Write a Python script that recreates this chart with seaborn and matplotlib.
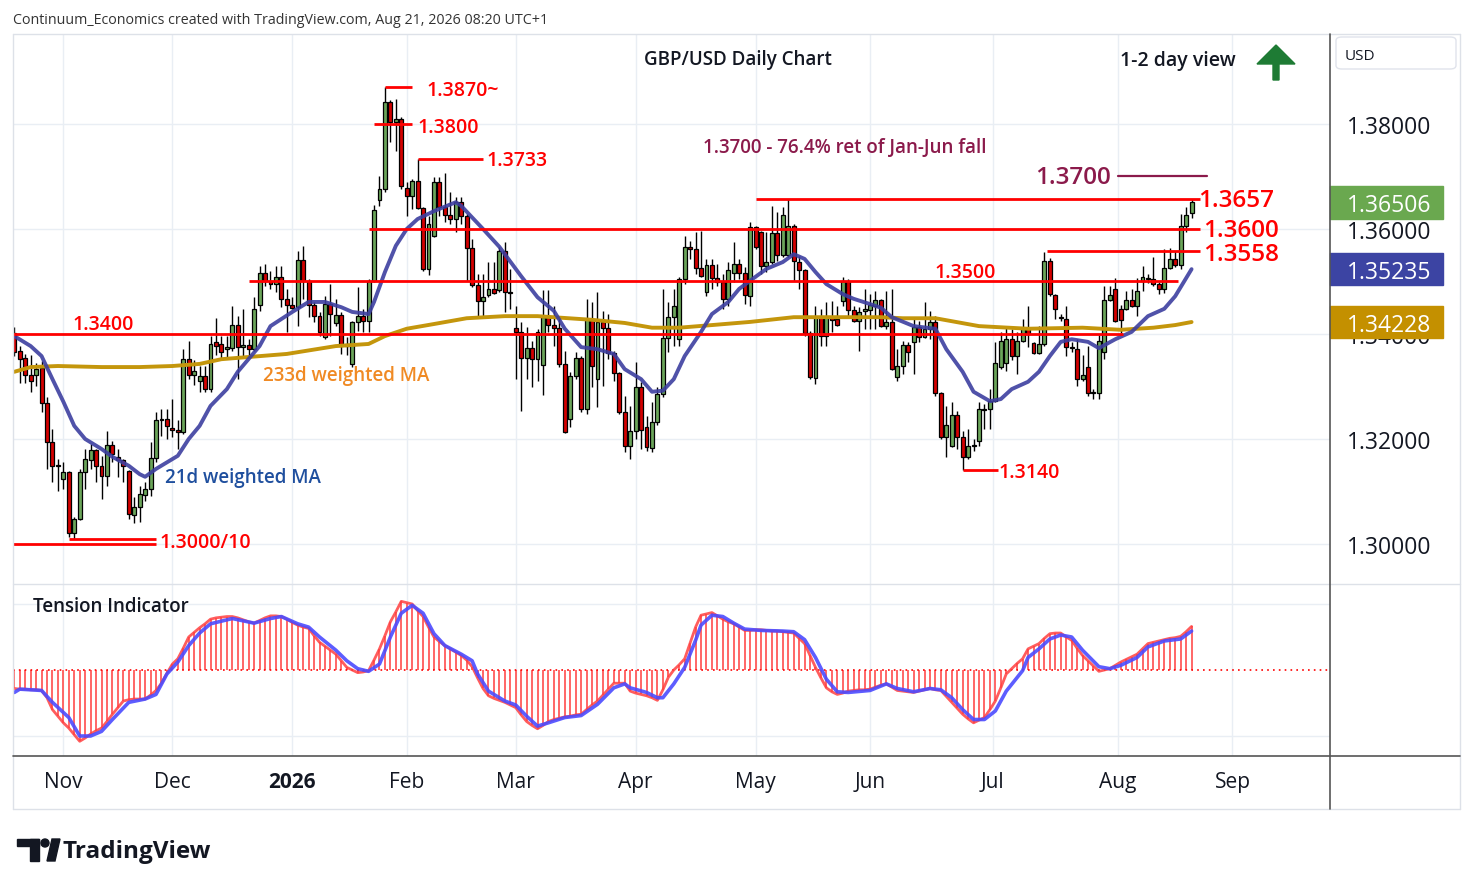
import numpy as np
import pandas as pd
import matplotlib
matplotlib.use("Agg")
import matplotlib.pyplot as plt
import matplotlib.transforms as mtransforms
from matplotlib.patches import Rectangle, FancyBboxPatch, FancyArrow, Circle, Polygon
import seaborn as sns

# ---- daily GBP/USD candles ----
opens = [1.3402, 1.3368, 1.3354, 1.3322, 1.3322, 1.3335, 1.3269, 1.3194, 1.3149, 1.3124,
         1.3137, 1.3021, 1.3048, 1.3137, 1.3160, 1.3179, 1.3149, 1.3130, 1.3189, 1.3166,
         1.3160, 1.3139, 1.3055, 1.3071, 1.3093, 1.3105, 1.3164, 1.3236, 1.3238, 1.3221,
         1.3217, 1.3213, 1.3352, 1.3322, 1.3310, 1.3320, 1.3295, 1.3385, 1.3381, 1.3371,
         1.3373, 1.3417, 1.3375, 1.3379, 1.3371, 1.3455, 1.3516, 1.3501, 1.3495, 1.3508,
         1.3467, 1.3455, 1.3451, 1.3540, 1.3501, 1.3455, 1.3434, 1.3394, 1.3457, 1.3421,
         1.3436, 1.3381, 1.3343, 1.3423, 1.3434, 1.3425, 1.3501, 1.3655, 1.3676, 1.3842,
         1.3804, 1.3810, 1.3678, 1.3663, 1.3691, 1.3640, 1.3524, 1.3587, 1.3690, 1.3642,
         1.3627, 1.3619, 1.3651, 1.3625, 1.3564, 1.3493, 1.3463, 1.3474, 1.3486, 1.3484,
         1.3558, 1.3480, 1.3412, 1.3404, 1.3354, 1.3373, 1.3352, 1.3340, 1.3432, 1.3417,
         1.3412, 1.3343, 1.3238, 1.3320, 1.3354, 1.3257, 1.3429, 1.3314, 1.3423, 1.3412,
         1.3364, 1.3326, 1.3251, 1.3187, 1.3215, 1.3299, 1.3223, 1.3183, 1.3232, 1.3286,
         1.3392, 1.3432, 1.3390, 1.3505, 1.3566, 1.3562, 1.3526, 1.3480, 1.3531, 1.3507,
         1.3499, 1.3467, 1.3516, 1.3533, 1.3516, 1.3472, 1.3604, 1.3594, 1.3529, 1.3537,
         1.3592, 1.3550, 1.3550, 1.3606, 1.3537, 1.3522, 1.3402, 1.3316, 1.3432, 1.3396,
         1.3430, 1.3429, 1.3463, 1.3501, 1.3446, 1.3425, 1.3444, 1.3446, 1.3453, 1.3465,
         1.3415, 1.3423, 1.3318, 1.3339, 1.3379, 1.3385, 1.3413, 1.3394, 1.3410, 1.3423,
         1.3288, 1.3204, 1.3187, 1.3246, 1.3204, 1.3166, 1.3187, 1.3196, 1.3257, 1.3257,
         1.3272, 1.3337, 1.3345, 1.3390, 1.3358, 1.3387, 1.3411, 1.3383, 1.3364, 1.3381,
         1.3539, 1.3474, 1.3432, 1.3429, 1.3375, 1.3371, 1.3314, 1.3337, 1.3288, 1.3288,
         1.3366, 1.3465, 1.3486, 1.3448, 1.3448, 1.3465, 1.3453, 1.3501, 1.3505, 1.3505,
         1.3495, 1.3486, 1.3526, 1.3543, 1.3531, 1.3606, 1.3631]
highs = [1.3413, 1.3377, 1.3362, 1.3360, 1.3345, 1.3348, 1.3280, 1.3219, 1.3162, 1.3156,
         1.3139, 1.3052, 1.3143, 1.3181, 1.3190, 1.3181, 1.3168, 1.3215, 1.3196, 1.3181,
         1.3162, 1.3141, 1.3090, 1.3111, 1.3118, 1.3194, 1.3251, 1.3257, 1.3257, 1.3276,
         1.3236, 1.3371, 1.3387, 1.3350, 1.3339, 1.3339, 1.3396, 1.3430, 1.3396, 1.3396,
         1.3453, 1.3434, 1.3448, 1.3390, 1.3471, 1.3529, 1.3533, 1.3520, 1.3529, 1.3529,
         1.3486, 1.3471, 1.3558, 1.3567, 1.3505, 1.3461, 1.3442, 1.3472, 1.3495, 1.3467,
         1.3442, 1.3394, 1.3425, 1.3490, 1.3448, 1.3505, 1.3646, 1.3701, 1.3870, 1.3846,
         1.3848, 1.3814, 1.3690, 1.3695, 1.3733, 1.3642, 1.3625, 1.3699, 1.3699, 1.3706,
         1.3670, 1.3661, 1.3661, 1.3628, 1.3581, 1.3514, 1.3514, 1.3537, 1.3537, 1.3566,
         1.3575, 1.3524, 1.3453, 1.3423, 1.3413, 1.3387, 1.3410, 1.3484, 1.3484, 1.3453,
         1.3434, 1.3368, 1.3327, 1.3366, 1.3358, 1.3467, 1.3461, 1.3480, 1.3444, 1.3438,
         1.3368, 1.3327, 1.3282, 1.3263, 1.3347, 1.3308, 1.3244, 1.3270, 1.3299, 1.3486,
         1.3461, 1.3486, 1.3508, 1.3587, 1.3577, 1.3594, 1.3596, 1.3543, 1.3543, 1.3533,
         1.3514, 1.3537, 1.3575, 1.3543, 1.3528, 1.3613, 1.3606, 1.3596, 1.3594, 1.3644,
         1.3632, 1.3642, 1.3657, 1.3610, 1.3548, 1.3524, 1.3406, 1.3453, 1.3448, 1.3461,
         1.3463, 1.3453, 1.3508, 1.3505, 1.3453, 1.3451, 1.3486, 1.3476, 1.3482, 1.3467,
         1.3482, 1.3486, 1.3371, 1.3387, 1.3385, 1.3432, 1.3425, 1.3461, 1.3444, 1.3434,
         1.3290, 1.3263, 1.3270, 1.3253, 1.3215, 1.3219, 1.3200, 1.3270, 1.3267, 1.3295,
         1.3385, 1.3404, 1.3415, 1.3410, 1.3404, 1.3429, 1.3453, 1.3385, 1.3415, 1.3556,
         1.3545, 1.3476, 1.3438, 1.3453, 1.3385, 1.3390, 1.3360, 1.3377, 1.3295, 1.3398,
         1.3491, 1.3491, 1.3507, 1.3455, 1.3482, 1.3486, 1.3507, 1.3529, 1.3514, 1.3547,
         1.3499, 1.3562, 1.3564, 1.3558, 1.3629, 1.3642, 1.3657]
lows = [1.3358, 1.3307, 1.3307, 1.3289, 1.3300, 1.3251, 1.3143, 1.3118, 1.3100, 1.3105,
        1.3013, 1.3010, 1.3046, 1.3105, 1.3143, 1.3118, 1.3086, 1.3111, 1.3156, 1.3128,
        1.3118, 1.3048, 1.3040, 1.3042, 1.3082, 1.3092, 1.3156, 1.3206, 1.3200, 1.3204,
        1.3181, 1.3209, 1.3314, 1.3303, 1.3289, 1.3289, 1.3289, 1.3360, 1.3352, 1.3356,
        1.3368, 1.3314, 1.3358, 1.3358, 1.3368, 1.3444, 1.3491, 1.3486, 1.3480, 1.3451,
        1.3404, 1.3448, 1.3415, 1.3467, 1.3432, 1.3423, 1.3396, 1.3390, 1.3396, 1.3415,
        1.3362, 1.3360, 1.3337, 1.3406, 1.3404, 1.3404, 1.3499, 1.3644, 1.3670, 1.3766,
        1.3749, 1.3676, 1.3625, 1.3638, 1.3638, 1.3520, 1.3512, 1.3585, 1.3625, 1.3613,
        1.3610, 1.3594, 1.3610, 1.3501, 1.3489, 1.3434, 1.3434, 1.3470, 1.3476, 1.3480,
        1.3442, 1.3448, 1.3314, 1.3253, 1.3314, 1.3299, 1.3310, 1.3284, 1.3404, 1.3377,
        1.3337, 1.3211, 1.3223, 1.3314, 1.3251, 1.3248, 1.3299, 1.3261, 1.3301, 1.3352,
        1.3310, 1.3248, 1.3175, 1.3162, 1.3200, 1.3181, 1.3177, 1.3175, 1.3227, 1.3280,
        1.3366, 1.3377, 1.3377, 1.3495, 1.3543, 1.3514, 1.3508, 1.3472, 1.3486, 1.3491,
        1.3448, 1.3453, 1.3499, 1.3505, 1.3457, 1.3453, 1.3562, 1.3514, 1.3518, 1.3533,
        1.3539, 1.3547, 1.3547, 1.3501, 1.3486, 1.3396, 1.3314, 1.3305, 1.3377, 1.3377,
        1.3404, 1.3415, 1.3453, 1.3434, 1.3423, 1.3368, 1.3410, 1.3410, 1.3410, 1.3413,
        1.3410, 1.3331, 1.3310, 1.3324, 1.3347, 1.3324, 1.3385, 1.3392, 1.3390, 1.3282,
        1.3200, 1.3166, 1.3185, 1.3181, 1.3141, 1.3162, 1.3177, 1.3187, 1.3219, 1.3219,
        1.3270, 1.3333, 1.3330, 1.3350, 1.3324, 1.3385, 1.3375, 1.3362, 1.3362, 1.3377,
        1.3472, 1.3429, 1.3425, 1.3358, 1.3366, 1.3301, 1.3310, 1.3282, 1.3276, 1.3276,
        1.3352, 1.3463, 1.3423, 1.3402, 1.3446, 1.3451, 1.3434, 1.3482, 1.3497, 1.3491,
        1.3476, 1.3478, 1.3524, 1.3528, 1.3524, 1.3594, 1.3621]
closes = [1.3366, 1.3352, 1.3322, 1.3310, 1.3333, 1.3269, 1.3194, 1.3149, 1.3151, 1.3137,
          1.3021, 1.3048, 1.3137, 1.3162, 1.3179, 1.3149, 1.3130, 1.3189, 1.3171, 1.3160,
          1.3149, 1.3057, 1.3071, 1.3095, 1.3105, 1.3164, 1.3236, 1.3238, 1.3225, 1.3217,
          1.3213, 1.3352, 1.3322, 1.3330, 1.3320, 1.3295, 1.3381, 1.3377, 1.3366, 1.3375,
          1.3417, 1.3375, 1.3379, 1.3371, 1.3448, 1.3516, 1.3501, 1.3495, 1.3508, 1.3467,
          1.3455, 1.3450, 1.3540, 1.3501, 1.3455, 1.3434, 1.3404, 1.3457, 1.3438, 1.3436,
          1.3377, 1.3377, 1.3423, 1.3434, 1.3425, 1.3501, 1.3636, 1.3676, 1.3842, 1.3804,
          1.3810, 1.3682, 1.3663, 1.3691, 1.3640, 1.3524, 1.3610, 1.3690, 1.3642, 1.3627,
          1.3619, 1.3651, 1.3625, 1.3564, 1.3493, 1.3463, 1.3470, 1.3486, 1.3478, 1.3558,
          1.3480, 1.3478, 1.3404, 1.3354, 1.3373, 1.3352, 1.3404, 1.3432, 1.3417, 1.3412,
          1.3343, 1.3213, 1.3320, 1.3354, 1.3257, 1.3429, 1.3339, 1.3423, 1.3412, 1.3364,
          1.3326, 1.3251, 1.3187, 1.3215, 1.3299, 1.3217, 1.3185, 1.3232, 1.3286, 1.3392,
          1.3432, 1.3453, 1.3505, 1.3566, 1.3562, 1.3526, 1.3510, 1.3531, 1.3507, 1.3499,
          1.3467, 1.3522, 1.3533, 1.3516, 1.3474, 1.3604, 1.3566, 1.3529, 1.3537, 1.3592,
          1.3550, 1.3627, 1.3606, 1.3539, 1.3522, 1.3402, 1.3318, 1.3432, 1.3396, 1.3432,
          1.3427, 1.3417, 1.3501, 1.3446, 1.3425, 1.3442, 1.3448, 1.3455, 1.3465, 1.3415,
          1.3423, 1.3333, 1.3339, 1.3379, 1.3366, 1.3413, 1.3394, 1.3410, 1.3423, 1.3288,
          1.3204, 1.3227, 1.3246, 1.3204, 1.3166, 1.3187, 1.3189, 1.3257, 1.3255, 1.3272,
          1.3345, 1.3387, 1.3390, 1.3358, 1.3387, 1.3411, 1.3400, 1.3364, 1.3381, 1.3539,
          1.3476, 1.3448, 1.3430, 1.3375, 1.3373, 1.3314, 1.3322, 1.3288, 1.3290, 1.3387,
          1.3465, 1.3474, 1.3425, 1.3427, 1.3465, 1.3453, 1.3482, 1.3509, 1.3507, 1.3495,
          1.3486, 1.3526, 1.3543, 1.3531, 1.3606, 1.3627, 1.36506]

# ---- moving averages (bar index, value) ----
wma21_idx = [0, 3, 5, 7, 9, 11, 13, 16, 18, 21, 23, 24, 26, 30, 32, 34, 36, 39, 41, 45,
             47, 51, 54, 57, 60, 62, 65, 66, 68, 70, 72, 74, 77, 81, 82, 86, 89, 93, 96, 99,
             101, 104, 107, 110, 112, 115, 117, 119, 121, 123, 126, 128, 131, 133, 136, 138,
             141, 143, 145, 147, 149, 152, 154, 157, 159, 161, 165, 169, 171, 174, 176, 179,
             181, 183, 186, 188, 190, 192, 194, 197, 199, 202, 205, 208, 211, 213, 216]
wma21_val = [1.3396, 1.3377, 1.3358, 1.3314, 1.3271, 1.3225, 1.3200, 1.3181, 1.3166, 1.3149,
             1.3133, 1.3128, 1.3143, 1.3168, 1.3200, 1.3225, 1.3263, 1.3295, 1.3328, 1.3377,
             1.3415, 1.3442, 1.3461, 1.3461, 1.3451, 1.3442, 1.3438, 1.3461, 1.3518, 1.3568,
             1.3600, 1.3619, 1.3634, 1.3651, 1.3644, 1.3600, 1.3566, 1.3510, 1.3470, 1.3444,
             1.3410, 1.3375, 1.3371, 1.3362, 1.3333, 1.3314, 1.3290, 1.3292, 1.3314, 1.3358,
             1.3404, 1.3438, 1.3461, 1.3486, 1.3509, 1.3524, 1.3537, 1.3552, 1.3543, 1.3518,
             1.3495, 1.3476, 1.3467, 1.3457, 1.3450, 1.3432, 1.3415, 1.3410, 1.3371, 1.3328,
             1.3290, 1.3272, 1.3276, 1.3295, 1.3309, 1.3328, 1.3358, 1.3385, 1.3390, 1.3385,
             1.3373, 1.3390, 1.3404, 1.3434, 1.3448, 1.3472, 1.35235]
wma233_idx = [0, 3, 8, 16, 23, 29, 34, 38, 50, 59, 65, 68, 72, 77, 83, 90, 96, 106, 112, 117,
              122, 128, 135, 143, 153, 159, 163, 169, 177, 186, 196, 203, 209, 213, 216]
wma233_val = [1.3328, 1.3337, 1.3339, 1.3337, 1.3337, 1.3339, 1.3343, 1.3352, 1.3362, 1.3377,
              1.3381, 1.3396, 1.3410, 1.3419, 1.3430, 1.3434, 1.3434, 1.3427, 1.3421, 1.3412,
              1.3412, 1.3417, 1.3423, 1.3432, 1.3432, 1.3432, 1.3430, 1.3430, 1.3415, 1.3410,
              1.3412, 1.3408, 1.3412, 1.3417, 1.34228]

# ---- tension indicator ----
tension = [-0.28, -0.29, -0.29, -0.30, -0.30, -0.31, -0.42, -0.60, -0.70, -0.80,
           -0.88, -0.98, -1.08, -1.03, -0.97, -0.92, -0.88, -0.78, -0.67, -0.57,
           -0.47, -0.45, -0.44, -0.44, -0.44, -0.38, -0.31, -0.20, -0.05, 0.09,
           0.17, 0.33, 0.50, 0.57, 0.64, 0.70, 0.77, 0.79, 0.80, 0.81,
           0.81, 0.79, 0.76, 0.73, 0.71, 0.75, 0.79, 0.82, 0.82, 0.81,
           0.77, 0.72, 0.68, 0.65, 0.63, 0.52, 0.42, 0.36, 0.30, 0.24,
           0.14, 0.04, 0.00, -0.04, -0.03, -0.01, 0.15, 0.32, 0.52, 0.73,
           0.88, 1.04, 1.02, 1.00, 0.90, 0.81, 0.65, 0.50, 0.43, 0.37,
           0.32, 0.27, 0.22, 0.15, 0.05, -0.12, -0.28, -0.39, -0.43, -0.46,
           -0.49, -0.53, -0.57, -0.68, -0.78, -0.84, -0.89, -0.84, -0.78, -0.75,
           -0.73, -0.71, -0.70, -0.68, -0.67, -0.60, -0.53, -0.47, -0.38, -0.29,
           -0.20, -0.20, -0.20, -0.32, -0.35, -0.37, -0.39, -0.42, -0.46, -0.30,
           -0.11, 0.00, 0.08, 0.17, 0.41, 0.65, 0.83, 0.85, 0.87, 0.82,
           0.77, 0.73, 0.70, 0.65, 0.60, 0.60, 0.61, 0.61, 0.60, 0.59,
           0.59, 0.58, 0.57, 0.56, 0.48, 0.40, 0.22, 0.04, -0.12, -0.27,
           -0.33, -0.37, -0.35, -0.32, -0.31, -0.30, -0.30, -0.29, -0.26, -0.23,
           -0.21, -0.26, -0.31, -0.32, -0.33, -0.34, -0.32, -0.30, -0.28, -0.30,
           -0.31, -0.40, -0.49, -0.58, -0.67, -0.74, -0.80, -0.76, -0.72, -0.60,
           -0.47, -0.27, -0.06, 0.02, 0.10, 0.17, 0.32, 0.36, 0.40, 0.48,
           0.55, 0.56, 0.56, 0.50, 0.45, 0.33, 0.22, 0.14, 0.06, -0.02,
           0.00, 0.02, 0.07, 0.12, 0.16, 0.20, 0.24, 0.32, 0.40, 0.42,
           0.44, 0.46, 0.48, 0.49, 0.51, 0.58, 0.66]
signal_idx = [0, 1, 5, 7, 10, 12, 14, 16, 18, 21, 24, 26, 28, 30, 32, 34, 36, 40, 44, 47,
              49, 52, 54, 56, 59, 61, 63, 65, 67, 69, 71, 73, 75, 77, 79, 82, 84, 85, 87, 90,
              92, 94, 96, 98, 101, 104, 107, 110, 112, 113, 116, 118, 119, 121, 123, 125, 126,
              128, 130, 132, 134, 137, 141, 143, 145, 147, 149, 151, 153, 157, 160, 162, 165,
              168, 170, 172, 174, 176, 178, 180, 182, 185, 186, 188, 190, 192, 194, 196, 199,
              201, 203, 206, 208, 211, 214, 215, 216]
signal_val = [-0.34, -0.29, -0.31, -0.49, -0.72, -1.00, -1.00, -0.93, -0.75, -0.49, -0.44,
              -0.37, -0.06, 0.12, 0.37, 0.56, 0.70, 0.78, 0.71, 0.78, 0.81, 0.70, 0.65, 0.50,
              0.30, 0.14, 0.02, -0.02, 0.09, 0.50, 0.86, 0.98, 0.86, 0.55, 0.37, 0.24, 0.14,
              -0.06, -0.32, -0.47, -0.53, -0.70, -0.85, -0.80, -0.72, -0.69, -0.52, -0.27,
              -0.21, -0.27, -0.34, -0.42, -0.42, -0.21, 0.04, 0.45, 0.68, 0.83, 0.81, 0.71,
              0.62, 0.60, 0.59, 0.58, 0.46, 0.19, -0.14, -0.33, -0.34, -0.31, -0.21, -0.28,
              -0.33, -0.28, -0.30, -0.42, -0.60, -0.75, -0.75, -0.62, -0.32, -0.01, 0.19, 0.32,
              0.47, 0.53, 0.50, 0.30, 0.05, 0.02, 0.07, 0.19, 0.35, 0.44, 0.47, 0.53, 0.59]

month_pos = [9, 29, 51, 72, 92, 114, 136, 157, 179.5, 202.5, 223.5]
month_labels = ['Nov', 'Dec', '2026', 'Feb', 'Mar', 'Apr', 'May', 'Jun', 'Jul', 'Aug', 'Sep']

# support / resistance levels: value, first bar, last bar
levels = [1.3400, 1.3500, 1.3600, 1.3657, 1.3558, 1.3733, 1.3870, 1.3800, 1.3140, 1.3010, 1.3000]
level_from = [-0.3, 43, 65, 136, 189.5, 74, 68, 66, 174, 10, -0.3]
level_to = [203.5, 213.5, 217.6, 217.6, 217.6, 86, 73, 73, 180.5, 26, 26]
target_level = 1.3700

axis_prices = [1.38, 1.36, 1.34, 1.32, 1.30]
tags = [(1.36506, '#6aa84f'), (1.35235, '#3c44a3'), (1.34228, '#c49000')]

W, H = 1474, 887
sns.set_style('white')
plt.rcParams['font.family'] = ['Open Sans', 'DejaVu Sans']

fig = plt.figure(figsize=(W / 100, H / 100), dpi=100)
ax = fig.add_axes([13 / W, 1 - 585 / H, 1317 / W, 550 / H])
ax2 = fig.add_axes([13 / W, 1 - 757 / H, 1317 / W, 172 / H])

df = pd.DataFrame({'open': opens, 'high': highs, 'low': lows, 'close': closes})
df['i'] = np.arange(len(df))
up = df['close'] >= df['open']

grid_c = '#e9eef4'
for p in axis_prices:
    ax.axhline(p, color=grid_c, lw=1, zorder=0)
for m in month_pos:
    ax.axvline(m, color=grid_c, lw=1, zorder=0)
    ax2.axvline(m, color=grid_c, lw=1, zorder=0)
for g in (1, -1):
    ax2.axhline(g, color=grid_c, lw=1, zorder=0)

# candles
ax.vlines(df['i'], df['low'], df['high'], color='black', lw=1, zorder=3)
ax.bar(df['i'][up], (df['close'] - df['open'])[up], bottom=df['open'][up], width=0.72,
       color='#6ba55a', edgecolor='black', linewidth=0.9, zorder=4)
ax.bar(df['i'][~up], (df['open'] - df['close'])[~up], bottom=df['close'][~up], width=0.72,
       color='#d40000', edgecolor='black', linewidth=0.9, zorder=4)

# moving averages
sns.lineplot(x=wma233_idx, y=wma233_val, ax=ax, color='#c4960c', lw=2.8, zorder=5)
sns.lineplot(x=wma21_idx, y=wma21_val, ax=ax, color='#3d3fa0', lw=2.8, alpha=0.9, zorder=5)

# level lines
for v, a, b in zip(levels, level_from, level_to):
    ax.plot([a, b], [v, v], color='#ff0000', lw=2, zorder=6, solid_capstyle='butt')
ax.plot([202.5, 218.8], [target_level, target_level], color='#8b1a4b', lw=1.6, zorder=6)

# labels (nudged a touch down so the glyph centres sit on the reference rows)
dy = -0.0004
red = '#ff0000'
lab = dict(color=red, fontsize=14, va='center', ha='left', fontweight='semibold', zorder=7)
ax.text(10.6, 1.3423 + dy, '1.3400', **lab)
ax.text(26.7, 1.3008 + dy, '1.3000/10', **lab)
ax.text(73.9, 1.3798 + dy, '1.3800', **lab)
ax.text(75.7, 1.3869 + dy, '1.3870~', **lab)
ax.text(86.7, 1.3735 + dy, '1.3733', **lab)
ax.text(168.8, 1.3522 + dy, '1.3500', **lab)
ax.text(180.5, 1.3141 + dy, '1.3140', **lab)
big = dict(color=red, fontsize=17.5, va='center', ha='left', fontweight='semibold', zorder=7)
ax.text(217.2, 1.3659 + dy, '1.3657', **big)
ax.text(218.1, 1.3602 + dy, '1.3600', **big)
ax.text(218.1, 1.3557 + dy, '1.3558', **big)
ax.text(187.3, 1.3703 + dy, '1.3700', color='#8b1a4b', fontsize=17.5, fontweight='semibold',
        va='center', ha='left', zorder=7)
ax.text(126.4, 1.3760 + dy, '1.3700 - 76.4% ret of Jan-Jun fall', color='#8b1a4b', fontsize=13.5,
        fontweight='semibold', va='center', ha='left', zorder=7)
ax.text(45.6, 1.3326 + dy, '233d weighted MA', color='#f08a24', fontsize=13.5,
        fontweight='semibold', va='center', ha='left', zorder=7)
ax.text(27.7, 1.3131 + dy, '21d weighted MA', color='#1f4f9e', fontsize=13.5,
        fontweight='semibold', va='center', ha='left', zorder=7)

ax.set_xlim(-0.24, 241.4)
ax.set_ylim(1.29238, 1.39714)
ax.set_xticks([])
ax.set_yticks([])
ax.set_xlabel('')
ax.set_ylabel('')
for s in ax.spines.values():
    s.set_visible(False)

# right price axis
trans = mtransforms.blended_transform_factory(ax.transAxes, ax.transData)
for p in axis_prices:
    t = ax.text(1.0129, p - 0.0005, f'{p:.5f}', transform=trans, va='center', ha='left',
                fontsize=16.5, color='#131722', clip_on=False, zorder=8)
    if abs(p - tags[2][0]) < 0.003:
        # partly hidden under the 233d tag, only its lower edge shows
        t.set_clip_path(Rectangle((1.0, p - 0.01), 0.09, 0.01 + tags[2][0] - 0.0031 - p,
                                  transform=trans))
        t.set_clip_on(True)
for p, c in tags:
    ax.add_patch(Rectangle((1.0, p - 0.0031), 0.0858, 0.0062, transform=trans, color=c,
                           clip_on=False, zorder=9))
    ax.text(1.0129, p - 0.0005, f'{p:.5f}', transform=trans, va='center', ha='left',
            fontsize=16.5, color='white', clip_on=False, zorder=10)

# tension indicator
ax2.vlines(np.arange(len(tension)), 0, tension, color='#ff5a5a', lw=1.3, zorder=2)
ax2.axhline(0, color='#ff0000', lw=1.2, ls=(0, (1, 2.5)), zorder=3)
sns.lineplot(x=np.arange(len(tension)), y=tension, ax=ax2, color='#ff4040', lw=2, alpha=0.85, zorder=4)
sns.lineplot(x=signal_idx, y=signal_val, ax=ax2, color='#4b4bff', lw=2.6, alpha=0.9, zorder=5)
ax2.set_xlim(-0.24, 241.4)
ax2.set_ylim(-1.303, 1.303)
ax2.set_yticks([])
ax2.set_ylabel('')
ax2.set_xticks(month_pos)
ax2.set_xticklabels(month_labels, fontsize=15, color='#131722')
ax2.tick_params(axis='x', length=0, pad=11)
for t in ax2.get_xticklabels():
    if t.get_text() == '2026':
        t.set_fontweight('bold')
for s in ax2.spines.values():
    s.set_visible(False)
ax2.text(0.015, 0.87, 'Tension Indicator', transform=ax2.transAxes, fontsize=13.5,
         fontweight='semibold', color='#131722', va='center', ha='left')

# frame lines, in pixels
def fx(x):
    return x / W


def fy(y):
    return 1 - y / H


def hline(y, x0, x1, c, lw=1):
    fig.add_artist(plt.Line2D([fx(x0), fx(x1)], [fy(y), fy(y)], color=c, lw=lw))


def vline(x, y0, y1, c, lw=1):
    fig.add_artist(plt.Line2D([fx(x), fx(x)], [fy(y0), fy(y1)], color=c, lw=lw))


light = '#dde1e8'
hline(35, 13, 1460, light)
hline(585, 13, 1460, light)
hline(810, 13, 1460, light)
vline(13, 35, 810, light)
vline(1460, 35, 810, light)
hline(757, 13, 1460, '#555555', 1.2)
vline(1330, 35, 810, '#555555', 1.2)

fig.add_artist(FancyBboxPatch((fx(1336), fy(70)), fx(120), 32 / H,
                              boxstyle='round,pad=0,rounding_size=0.004',
                              fc='white', ec='#e0e3eb', lw=1))
fig.text(fx(1345), fy(56), 'USD', fontsize=11, color='#131722', va='center', ha='left')

fig.text(fx(13), fy(21), 'Continuum_Economics created with TradingView.com, Aug 21, 2026 08:20 UTC+1',
         fontsize=10.3, color='#333333', va='center', ha='left')
fig.text(fx(644), fy(60), 'GBP/USD Daily Chart', fontsize=13.5, fontweight='semibold',
         color='#131722', va='center', ha='left')
fig.text(fx(1120), fy(61), '1-2 day view', fontsize=14, fontweight='semibold',
         color='#131722', va='center', ha='left')

ident = mtransforms.IdentityTransform()
fig.add_artist(FancyArrow(1276, H - 81, 0, 35, width=6, head_width=38, head_length=19,
                          length_includes_head=True, color='#1e7b34', transform=ident))

# TradingView logo
fig.add_artist(Rectangle((17, H - 847), 22, 7, color='#131722', transform=ident))
fig.add_artist(Rectangle((30, H - 862), 9, 22, color='#131722', transform=ident))
fig.add_artist(Circle((45, H - 844), 4, color='#131722', transform=ident))
fig.add_artist(Polygon([(47, H - 862), (52, H - 840), (60, H - 840), (55, H - 862)],
                       closed=True, color='#131722', transform=ident))
fig.text(fx(62), fy(852), 'TradingView', fontsize=17.5, fontweight='bold', color='#131722',
         va='center', ha='left')

fig.savefig('out.png', dpi=100)
